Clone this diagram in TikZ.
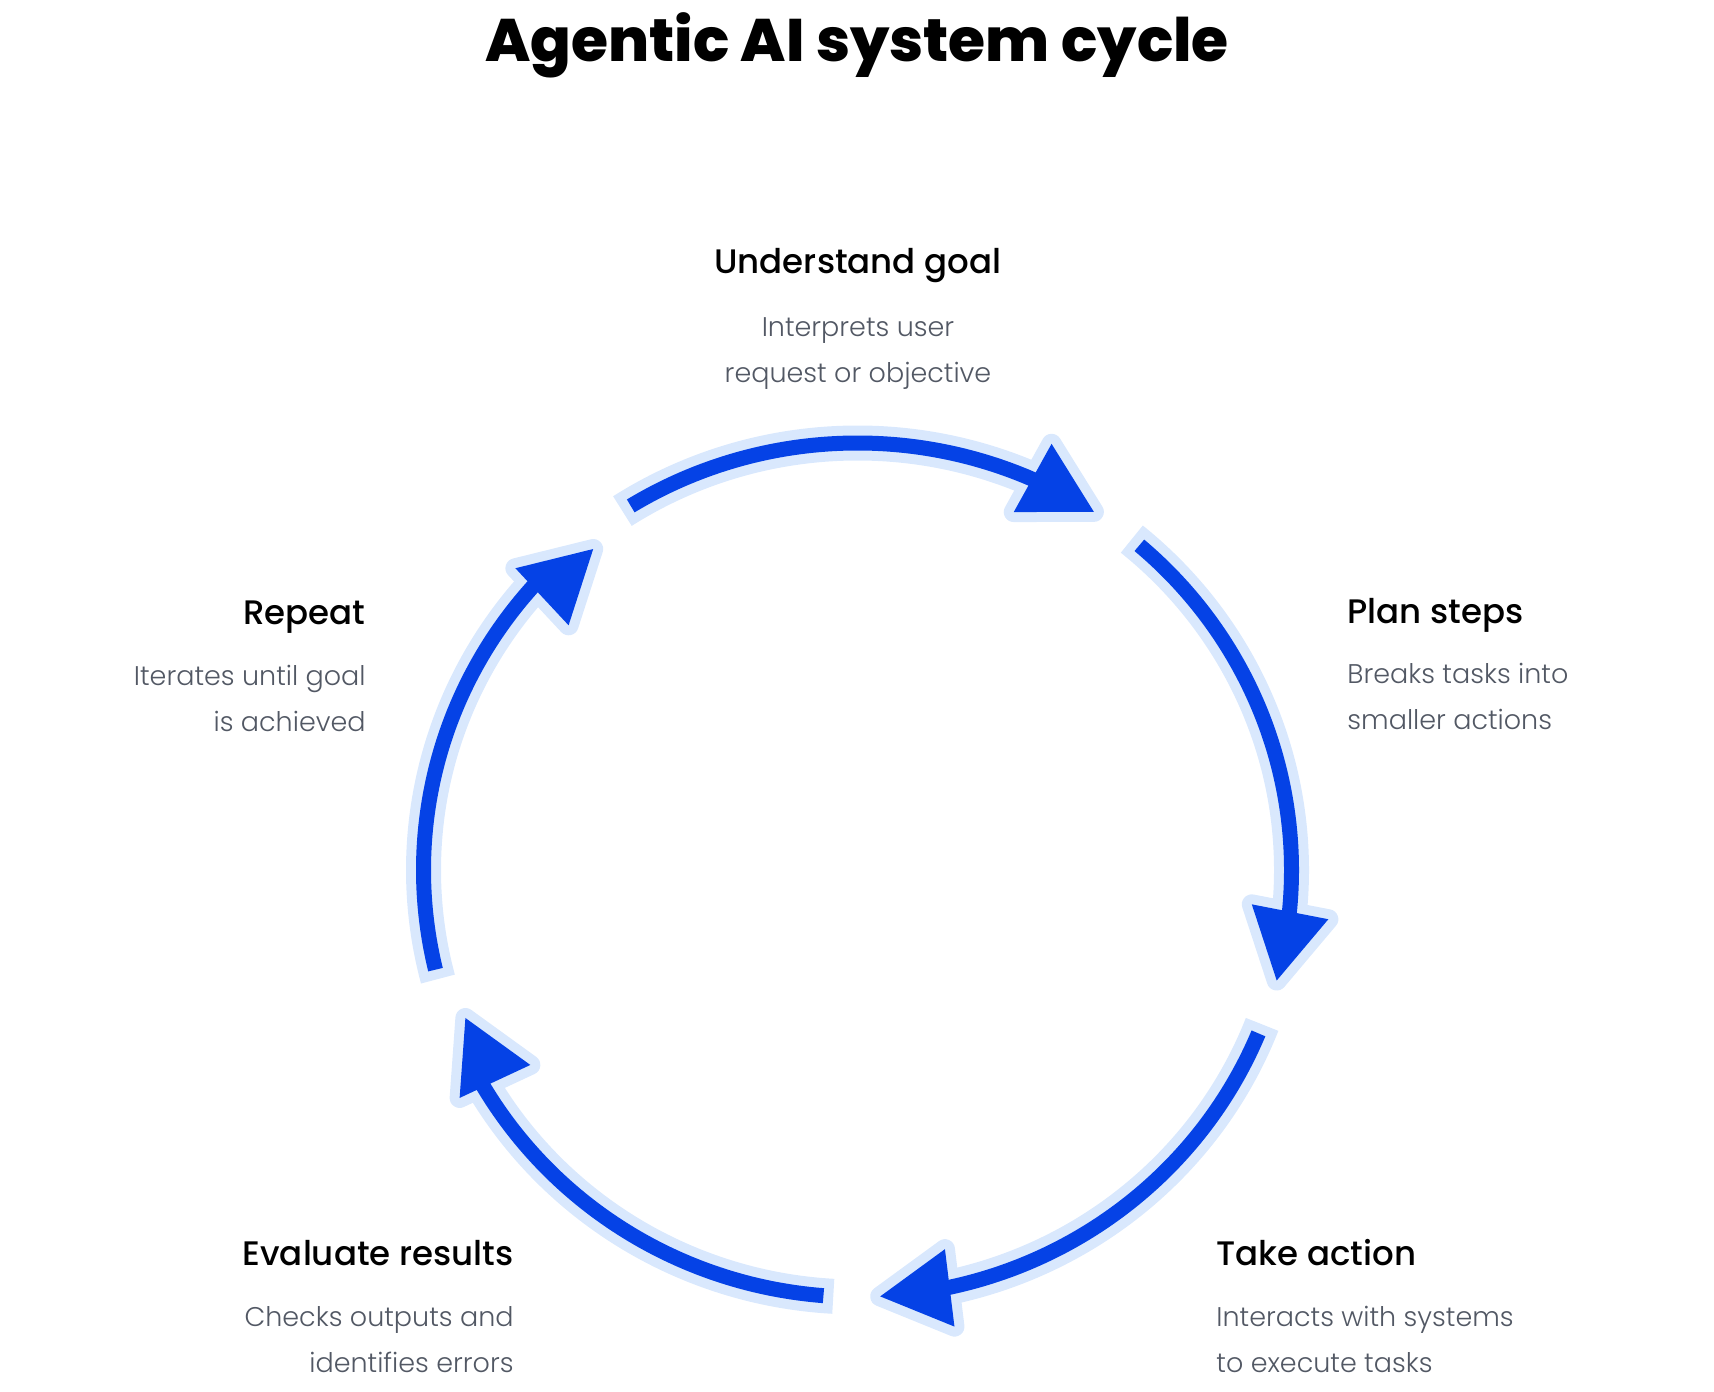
\documentclass[tikz,border=0pt]{standalone}
\usepackage{fontspec}
\setmainfont{Poppins}
\newfontfamily\titlefont{Poppins ExtraBold}
\newfontfamily\headfont{Poppins Medium}
\newfontfamily\descfont{Poppins Light}
\usepackage{xcolor}
\usepackage{tikz}
\usetikzlibrary{positioning, calc}

\definecolor{arrowblue}{RGB}{5,66,230}
\definecolor{haloblue}{RGB}{217,232,253}
\definecolor{descgray}{RGB}{82,88,100}

\tikzset{
    head/.style={font=\headfont\fontsize{17pt}{20pt}\selectfont, inner sep=0pt},
    desc/.style={font=\descfont\fontsize{13.5pt}{23pt}\selectfont, text=descgray, inner sep=0pt},
}

\begin{document}
\begin{tikzpicture}[x=0.5pt, y=0.5pt]
            \useasboundingbox (0,0) rectangle (1714,1392);

            \node[font=\titlefont\fontsize{30pt}{36pt}\selectfont, anchor=base, inner sep=0pt] (title) at (857,1330) {Agentic AI system cycle};

            \coordinate (O) at (857.5,522);

            % five arcs of the cycle, clockwise from the top
            \foreach \c/\dr [count=\i] in {90/0,18/0,-54/0,-126/-14,-198/-14} {
                \pgfmathsetmacro\sa{\c+31.5}
                \pgfmathsetmacro\ha{\sa+1.3}
                \pgfmathsetmacro\ea{\c-33}
                \pgfmathsetmacro\la{\ea+6}
                \pgfmathsetmacro\rot{\ea-86}
                \pgfmathsetmacro\rx{434+\dr}
                \pgfmathsetmacro\ry{427+\dr}
                \coordinate (s\i) at ($(O)+(\sa:434 and 427)$);
                \coordinate (h\i) at ($(O)+(\ha:434 and 427)$);
                \coordinate (t\i) at ($(O)+(\ea:\rx\space and \ry)$);
                \draw[haloblue, line width=17.5pt] (h\i) arc[start angle=\ha, end angle=\la, x radius=434, y radius=427];
                \filldraw[haloblue, line width=10pt, line join=round, shift={(t\i)}, rotate=\rot] (0,0) -- (-70,39) -- (-70,-39) -- cycle;
                \draw[arrowblue, line width=7.5pt] (s\i) arc[start angle=\sa, end angle=\la, x radius=434, y radius=427];
                \fill[arrowblue, shift={(t\i)}, rotate=\rot] (0,0) -- (-70,39) -- (-70,-39) -- cycle;
            }

            \node[head, anchor=base] (goal) at (858,1118) {Understand goal};
            \node[desc, anchor=base, align=center] (goaltxt) at (858,1009) {Interprets user\\request or objective};

            \node[head, anchor=base west] (plan) at (1347,768) {Plan steps};
            \node[desc, anchor=base west, align=left] (plantxt) at (1347,662) {Breaks tasks into\\smaller actions};

            \node[head, anchor=base west] (act) at (1216,126) {Take action};
            \node[desc, anchor=base west, align=left] (acttxt) at (1216,19) {Interacts with systems\\to execute tasks};

            \node[head, anchor=base east] (eval) at (514,126) {Evaluate results};
            \node[desc, anchor=base east, align=right] (evaltxt) at (514,19) {Checks outputs and\\identifies errors};

            \node[head, anchor=base east] (rep) at (366,767) {Repeat};
            \node[desc, anchor=base east, align=right] (reptxt) at (366,660) {Iterates until goal\\is achieved};
\end{tikzpicture}
\end{document}
